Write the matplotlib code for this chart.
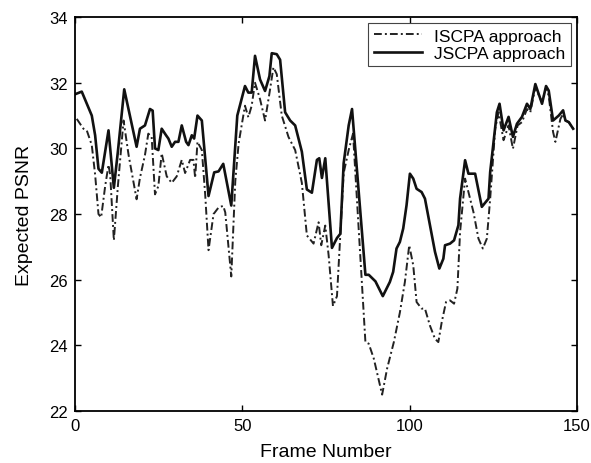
import matplotlib
matplotlib.use("Agg")
import matplotlib.pyplot as plt

plt.rcParams['font.family'] = ['Liberation Sans', 'DejaVu Sans']

# JSCPA approach (solid)
j_frames = [0, 2, 5, 6, 7, 8, 10, 11.6, 12.8, 14.7, 18.4, 19.4, 20.9, 22.4, 23.2, 23.9,
            24.9, 25.9, 27.2, 27.9, 28.9, 29.9, 30.9, 31.9, 33.2, 33.9, 34.9, 35.6, 36.6,
            37.9, 38.9, 39.9, 41.6, 42.9, 44.3, 46.7, 48.5, 50.8, 51.8, 52.8, 53.8, 55.3,
            56.8, 58.1, 58.8, 60.3, 61.3, 62.8, 64.3, 65.8, 67.8, 69.3, 70.8, 72.3, 73,
            73.8, 74.8, 76.8, 78.3, 79.3, 80.3, 81.8, 82.8, 86.8, 87.8, 89.8, 92, 94.1,
            95.1, 96.1, 97.1, 98.1, 99.1, 100.1, 101.1, 102.1, 103.6, 104.6, 106.1, 107.6,
            108.9, 110.1, 110.6, 112.1, 113.3, 114.6, 115.1, 116.6, 117.6, 119.6, 121.6,
            123.6, 124.1, 126.1, 126.9, 128.1, 129.6, 130.9, 132.1, 133.6, 135.1, 136.1,
            137.6, 139.6, 140.8, 141.6, 142.9, 144.6, 145.9, 146.6, 147.6, 148.9]
j_psnr = [31.65, 31.73, 31.0, 30.4, 29.38, 29.26, 30.55, 28.8, 29.9, 31.8, 30.05, 30.6,
          30.7, 31.2, 31.15, 30.0, 29.95, 30.6, 30.4, 30.3, 30.05, 30.2, 30.2, 30.7, 30.2,
          30.1, 30.4, 30.3, 31.0, 30.85, 29.7, 28.55, 29.27, 29.3, 29.53, 28.26, 31.0,
          31.9, 31.7, 31.7, 32.82, 32.1, 31.75, 32.2, 32.9, 32.87, 32.7, 31.1, 30.85,
          30.7, 29.9, 28.75, 28.65, 29.65, 29.7, 29.1, 29.7, 26.97, 27.27, 27.4, 29.55,
          30.7, 31.2, 26.15, 26.15, 25.95, 25.5, 25.93, 26.24, 26.95, 27.15, 27.56, 28.27,
          29.23, 29.08, 28.77, 28.67, 28.47, 27.66, 26.85, 26.34, 26.64, 27.05, 27.1,
          27.2, 27.66, 28.47, 29.64, 29.23, 29.23, 28.22, 28.47, 29.28, 31.1, 31.36,
          30.55, 30.96, 30.35, 30.75, 30.96, 31.36, 31.2, 31.96, 31.36, 31.9, 31.76,
          30.85, 31.0, 31.16, 30.85, 30.8, 30.6]

# ISCPA approach (dash-dot)
i_frames = [0.5, 2.5, 3.5, 5, 6, 7, 7.8, 9, 10, 10.5, 11.6, 12.8, 14.5, 16, 18.4, 19.4,
            20.9, 21.9, 22.9, 23.9, 24.9, 25.9, 27.4, 28.9, 30.4, 31.9, 32.9, 34.4, 35.4,
            35.9, 36.6, 37.9, 38.9, 39.9, 41.4, 42.9, 44.3, 44.9, 46.7, 47.9, 48.9, 49.8,
            50.8, 51.8, 52.8, 53.8, 55.3, 56.8, 58.3, 59.3, 60.3, 61.8, 63.8, 65.8, 67.8,
            69.3, 71.3, 72.8, 73.6, 74.8, 75.8, 77.1, 78.3, 80.3, 81.8, 83.1, 86.8, 87.8,
            89.3, 91.8, 93.3, 95.3, 97.1, 98.6, 99.9, 101.1, 102.1, 103.6, 104.6, 106.1,
            107.6, 108.6, 109.6, 110.9, 112.1, 113.3, 114.3, 115.1, 116.6, 117.6, 119.1,
            120.6, 121.9, 123.1, 124.1, 125.6, 126.6, 128.1, 129.6, 130.9, 132.3, 133.6,
            135.1, 136.1, 137.6, 139.6, 140.8, 141.6, 142.9, 143.6, 145.1, 145.9, 146.6,
            147.6, 148.9]
i_psnr = [30.9, 30.6, 30.55, 30.1, 29.2, 28.0, 27.9, 28.85, 29.5, 29.2, 27.2, 28.85,
          30.85, 29.8, 28.45, 29.1, 29.8, 30.45, 30.35, 28.6, 28.85, 29.85, 29.15, 28.95,
          29.15, 29.65, 29.25, 29.65, 29.65, 29.1, 30.2, 29.95, 28.6, 26.9, 28.0, 28.2,
          28.25, 28.05, 26.1, 29.0, 30.15, 30.7, 31.3, 30.95, 31.3, 32.0, 31.5, 30.85,
          31.8, 32.47, 32.26, 31.0, 30.35, 29.95, 28.95, 27.35, 27.1, 27.75, 27.05, 27.65,
          26.75, 25.2, 25.5, 29.25, 29.95, 30.45, 24.1, 24.05, 23.6, 22.5, 23.3, 24.1,
          25.0, 25.93, 27.05, 26.44, 25.32, 25.12, 25.12, 24.6, 24.2, 24.1, 24.7, 25.32,
          25.37, 25.27, 25.73, 27.45, 29.08, 28.67, 28.06, 27.25, 26.95, 27.25, 28.47,
          30.6, 31.1, 30.25, 30.7, 29.99, 30.7, 30.8, 31.2, 31.1, 31.86, 31.4, 31.86,
          31.6, 30.5, 30.2, 30.9, 31.05, 30.85, 30.8, 30.6]

fig = plt.figure(figsize=(5.91, 4.64), dpi=100)
ax = fig.add_axes([0.127, 0.112, 0.849, 0.849])

ax.plot(i_frames, i_psnr, color="#222222", lw=1.4, linestyle=(0, (4, 1.6, 1, 1.6)),
        label="ISCPA approach")
ax.plot(j_frames, j_psnr, color="#111111", lw=1.9, label="JSCPA approach")

ax.set_xlim(0, 150)
ax.set_ylim(22, 34)
ax.set_xticks([0, 50, 100, 150])
ax.set_yticks([22, 24, 26, 28, 30, 32, 34])
ax.tick_params(direction="in", top=True, right=True, labelsize=12, length=4, width=1,
               pad=5)
for s in ax.spines.values():
    s.set_linewidth(1.3)

ax.set_xlabel("Frame Number", fontsize=14, labelpad=7)
ax.set_ylabel("Expected PSNR", fontsize=14, labelpad=12)

leg = ax.legend(loc="upper right", fontsize=12.5, fancybox=False, framealpha=1,
                edgecolor="#444444", handlelength=2.8, borderaxespad=0.35,
                labelspacing=0.15, borderpad=0.3, handletextpad=0.7)
leg.get_frame().set_linewidth(0.8)

fig.savefig("out.png", dpi=100)
